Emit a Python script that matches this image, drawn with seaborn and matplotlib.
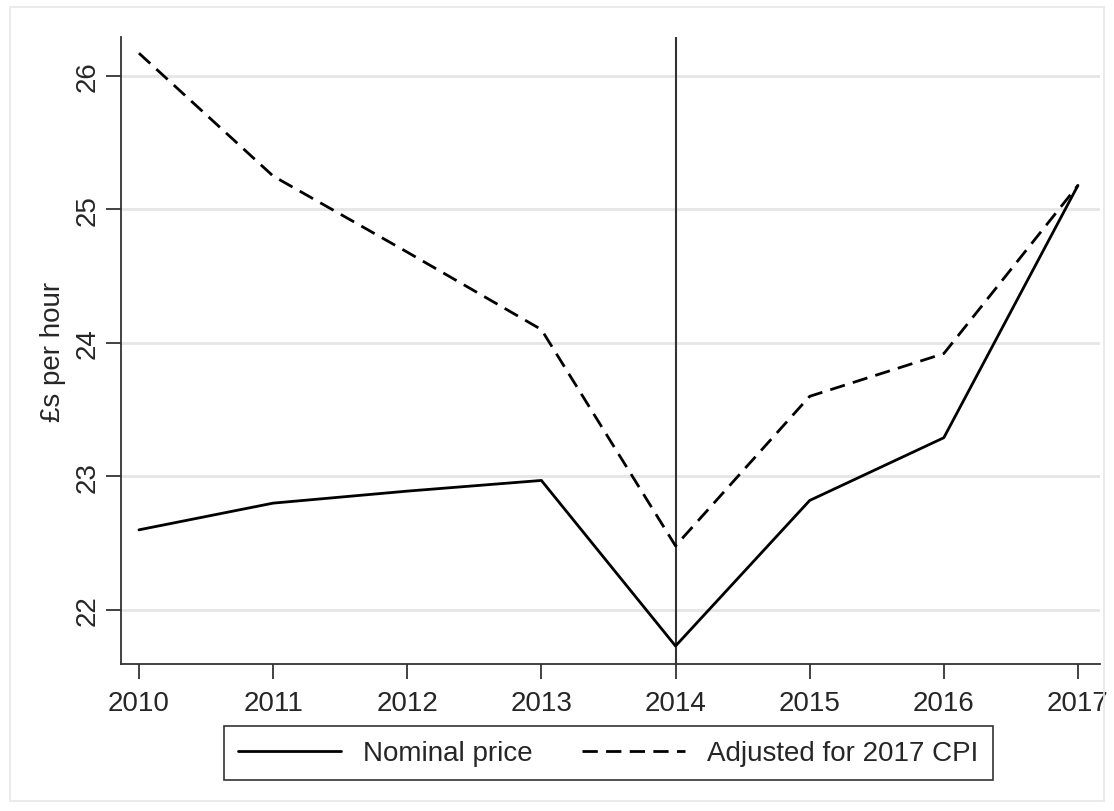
import matplotlib.pyplot as plt
import matplotlib.patches as mpatches
import pandas as pd
import seaborn as sns

# datos
years = [2010, 2011, 2012, 2013, 2014, 2015, 2016, 2017]
nominal = [22.60, 22.80, 22.89, 22.97, 21.73, 22.82, 23.29, 25.18]
adjusted = [26.17, 25.25, 24.68, 24.10, 22.48, 23.60, 23.92, 25.18]
series_names = ["Nominal price", "Adjusted for 2017 CPI"]
y_ticks = [22, 23, 24, 25, 26]
break_year = 2014

df = pd.DataFrame({
    "year": years * 2,
    "value": nominal + adjusted,
    "serie": [series_names[0]] * len(years) + [series_names[1]] * len(years),
})

sns.set_style("white")
plt.rcParams['font.family'] = ['Liberation Sans', 'DejaVu Sans']

fig = plt.figure(figsize=(11.14, 8.12), dpi=100)
ax = fig.add_axes([0.1086, 0.181, 0.8788, 0.772])

# marco gris exterior estilo Stata
fig.patches.append(mpatches.Rectangle((0.009, 0.012), 0.982, 0.978, transform=fig.transFigure,
                                      fill=False, edgecolor='#e8e8e8', linewidth=1.2))

for y in y_ticks:
    ax.axhline(y, color='#e6e6e6', linewidth=2, zorder=0)

ax.axvline(break_year, color='#333333', linewidth=1.5, zorder=1)

sns.lineplot(data=df, x="year", y="value", style="serie", color="black",
             dashes={series_names[0]: "", series_names[1]: (5.5, 3)},
             linewidth=2, ax=ax, legend=False)

ax.set_xlim(2009.866, 2017.164)
ax.set_ylim(21.595, 26.29)
ax.set_xticks(years)
ax.set_yticks(y_ticks)
ax.set_yticklabels([str(t) for t in y_ticks], rotation=90, va='center')
ax.tick_params(axis='both', direction='out', length=11, width=1.3, labelsize=20,
               color='#333333', bottom=True, left=True)
ax.tick_params(axis='y', pad=4)
ax.tick_params(axis='x', pad=8)

for s in ['top', 'right']:
    ax.spines[s].set_visible(False)
for s in ['left', 'bottom']:
    ax.spines[s].set_color('#333333')
    ax.spines[s].set_linewidth(1.3)

ax.set_xlabel('')
ax.set_ylabel('£s per hour', fontsize=20, labelpad=6)

handles = [plt.Line2D([], [], color='black', linewidth=2, linestyle='-'),
           plt.Line2D([], [], color='black', linewidth=2, linestyle=(0, (5.5, 3)))]
leg = fig.legend(handles, series_names, loc='center', bbox_to_anchor=(0.546, 0.071), ncol=2,
                 fontsize=20, frameon=True, fancybox=False, edgecolor='black',
                 handlelength=3.7, columnspacing=1.8, borderpad=0.5, handletextpad=0.8)
leg.get_frame().set_linewidth(1.2)

plt.savefig('out.png', dpi=100)
